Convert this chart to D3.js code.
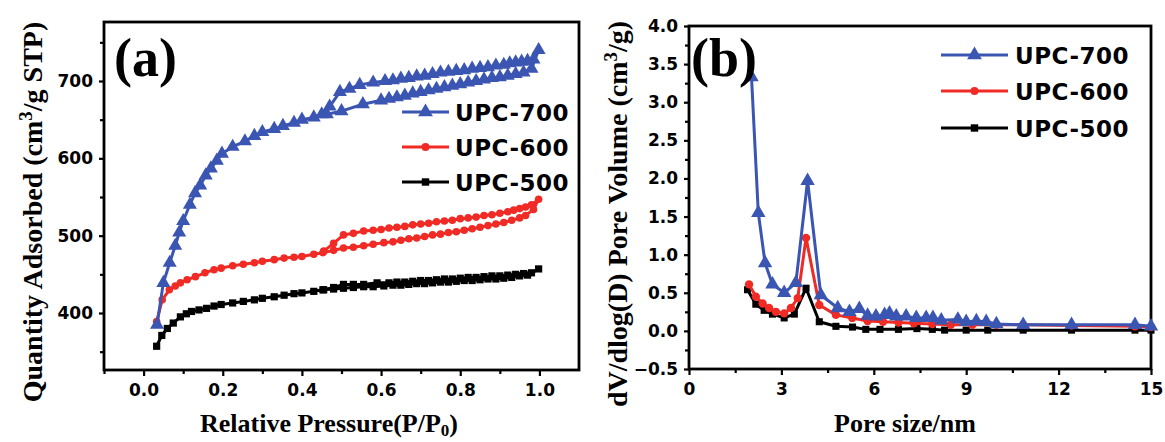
<!DOCTYPE html>
<html>
<head>
<meta charset="utf-8">
<script src="https://cdn.jsdelivr.net/npm/d3@7"></script>
<style>
  body { margin: 0; background: #fff; }
  svg text { fill: #000; }
</style>
</head>
<body>
<div id="chart"></div>
<script>
// ---- (a) N2 isotherms: [P/P0, quantity adsorbed] ----
var upc700Ads = [[0.034,385],[0.05,439],[0.066,465],[0.08,487],[0.09,504],[0.10,519],[0.117,540],[0.13,555],
  [0.143,565],[0.157,578],[0.17,587],[0.185,597],[0.198,606],[0.225,615],[0.256,622],[0.28,629],[0.30,634],
  [0.33,638],[0.352,642],[0.38,646],[0.40,650],[0.43,653],[0.463,657],[0.50,661],[0.554,670],[0.60,675],
  [0.62,677],[0.64,679],[0.66,681],[0.68,684],[0.70,686],[0.72,688],[0.74,690],[0.76,692],[0.78,694],
  [0.80,696],[0.82,698],[0.84,700],[0.86,702],[0.88,704],[0.90,705],[0.92,707],[0.94,709],[0.96,711],
  [0.98,716],[0.998,740]];
var upc700Des = [[0.985,728],[0.97,726],[0.955,725],[0.94,724],[0.925,723],[0.91,721],[0.89,720],[0.87,718],
  [0.85,717],[0.83,716],[0.81,714],[0.79,713],[0.77,712],[0.75,711],[0.73,709],[0.71,707],[0.69,706],
  [0.67,704],[0.65,703],[0.63,701],[0.61,700],[0.58,698],[0.546,695],[0.52,690],[0.496,686],[0.47,667],[0.45,657]];

var upc600Ads = [[0.033,389],[0.047,417],[0.065,430],[0.08,435],[0.093,439],[0.11,443],[0.131,447],[0.155,452],
  [0.178,456],[0.196,458],[0.225,461],[0.252,463],[0.28,465],[0.30,467],[0.33,469],[0.355,471],[0.38,472],
  [0.40,473],[0.43,476],[0.453,478],[0.48,481],[0.505,484],[0.53,485],[0.556,487],[0.58,489],[0.607,491],
  [0.63,492],[0.65,494],[0.67,496],[0.69,497],[0.71,499],[0.73,501],[0.75,502],[0.77,504],[0.79,505],
  [0.81,507],[0.83,509],[0.85,511],[0.87,513],[0.89,515],[0.91,517],[0.93,520],[0.95,523],[0.965,526],
  [0.985,534],[0.998,547]];
var upc600Des = [[0.98,540],[0.965,537],[0.95,535],[0.935,533],[0.92,531],[0.90,529],[0.88,527],[0.86,526],
  [0.84,524],[0.82,523],[0.80,522],[0.78,520],[0.76,519],[0.74,518],[0.72,516],[0.70,515],[0.68,514],
  [0.66,512],[0.64,511],[0.62,510],[0.60,508],[0.58,507],[0.556,506],[0.53,503],[0.505,501],[0.48,490],[0.455,480]];

var upc500Ads = [[0.033,357],[0.046,371],[0.06,380],[0.075,387],[0.093,395],[0.108,399],[0.121,402],[0.14,404],
  [0.159,406],[0.178,409],[0.196,411],[0.225,413],[0.252,415],[0.28,417],[0.30,419],[0.33,421],[0.355,423],
  [0.38,425],[0.40,426],[0.43,428],[0.453,430],[0.48,431],[0.505,432],[0.53,433],[0.556,434],[0.58,434],
  [0.607,435],[0.63,436],[0.65,436],[0.67,437],[0.69,438],[0.71,438],[0.73,439],[0.75,440],[0.77,440],
  [0.79,441],[0.81,442],[0.83,442],[0.85,443],[0.87,444],[0.89,444],[0.91,445],[0.93,446],[0.95,448],
  [0.97,449],[0.998,457]];
var upc500Des = [[0.98,452],[0.96,451],[0.94,450],[0.92,449],[0.90,448],[0.88,448],[0.86,447],[0.84,446],
  [0.82,446],[0.80,445],[0.78,444],[0.76,444],[0.74,443],[0.72,442],[0.70,442],[0.68,441],[0.66,440],
  [0.64,440],[0.62,439],[0.59,439],[0.556,437],[0.53,437],[0.505,437],[0.48,433],[0.455,430]];

// ---- (b) pore size distribution: [pore size nm, dV/dlog(D)] ----
var psd700 = [[2.03,3.33],[2.25,1.55],[2.47,0.89],[2.71,0.61],[3.09,0.50],[3.47,0.63],[3.85,1.97],[4.28,0.47],
  [4.83,0.30],[5.21,0.25],[5.53,0.29],[5.80,0.20],[6.07,0.19],[6.35,0.21],[6.51,0.23],[6.73,0.19],[7.05,0.19],
  [7.38,0.17],[7.70,0.17],[7.92,0.17],[8.19,0.14],[8.73,0.15],[9.0,0.12],[9.33,0.13],[9.65,0.12],[9.98,0.09],
  [10.85,0.08],[12.42,0.08],[14.48,0.08],[15.0,0.06]];
var psd600 = [[1.95,0.61],[2.17,0.45],[2.39,0.36],[2.60,0.30],[2.82,0.25],[3.09,0.23],[3.31,0.30],[3.53,0.43],
  [3.80,1.22],[4.23,0.34],[4.77,0.21],[5.30,0.17],[5.80,0.13],[6.3,0.12],[6.8,0.11],[7.3,0.10],[7.9,0.09],
  [8.5,0.08],[9.2,0.08],[9.98,0.08],[10.85,0.08],[12.42,0.07],[14.48,0.06],[15.0,0.05]];
var psd500 = [[1.90,0.54],[2.17,0.35],[2.44,0.27],[2.71,0.22],[3.09,0.17],[3.42,0.22],[3.80,0.56],[4.23,0.12],
  [4.77,0.06],[5.31,0.05],[5.74,0.02],[6.2,0.02],[6.8,0.02],[7.4,0.03],[7.9,0.02],[8.3,0.01],[9.0,0.01],
  [9.7,0.01],[10.85,0.01],[12.42,0.01],[14.48,0.01],[15.0,0.01]];

var seriesNames = ["UPC-700", "UPC-600", "UPC-500"];
var seriesColors = ["#3a55b2", "#f02a24", "#000000"];
var seriesSymbols = [d3.symbolTriangle, d3.symbolCircle, d3.symbolSquare];

var svg = d3.select("#chart").append("svg")
  .attr("width", 1165)
  .attr("height", 442);

var tickFont = "'DejaVu Sans', sans-serif";
var titleFont = "'Liberation Serif', 'Times New Roman', serif";

function drawFrame(g, x, y, majorX, minorX, majorY, minorY, fmtX, fmtY) {
  var x0 = x.range()[0], x1 = x.range()[1], y0 = y.range()[0], y1 = y.range()[1];

  g.append("g").attr("transform", "translate(0," + y0 + ")")
    .call(d3.axisBottom(x).tickValues(majorX).tickSize(6).tickPadding(8).tickFormat(fmtX));
  g.append("g").attr("transform", "translate(0," + y0 + ")")
    .call(d3.axisBottom(x).tickValues(minorX).tickSize(4).tickFormat(""));
  g.append("g").attr("transform", "translate(" + x0 + ",0)")
    .call(d3.axisLeft(y).tickValues(majorY).tickSize(5).tickPadding(6).tickFormat(fmtY));
  g.append("g").attr("transform", "translate(" + x0 + ",0)")
    .call(d3.axisLeft(y).tickValues(minorY).tickSize(4).tickFormat(""));

  g.selectAll(".domain").remove();
  g.selectAll(".tick line").attr("stroke", "#000").attr("stroke-width", 2.2);
  g.selectAll(".tick text")
    .style("font-family", tickFont)
    .style("font-weight", "bold")
    .style("font-size", "17px");

  g.append("rect")
    .attr("x", x0).attr("y", y1)
    .attr("width", x1 - x0).attr("height", y0 - y1)
    .attr("fill", "none").attr("stroke", "#000").attr("stroke-width", 2.8);
}

function drawSeries(g, x, y, pts, i, msize) {
  var line = d3.line().x(function(d) { return x(d[0]); }).y(function(d) { return y(d[1]); });
  g.append("path")
    .datum(pts)
    .attr("d", line)
    .attr("fill", "none")
    .attr("stroke", seriesColors[i])
    .attr("stroke-width", 3)
    .attr("stroke-linejoin", "round");
  g.selectAll(".m" + i)
    .data(pts)
    .enter().append("path")
    .attr("class", "m" + i)
    .attr("transform", function(d) { return "translate(" + x(d[0]) + "," + y(d[1]) + ")"; })
    .attr("d", d3.symbol().type(seriesSymbols[i]).size(msize[i]))
    .attr("fill", seriesColors[i]);
}

function drawLegend(g, lx0, lx1, tx, rows, msize) {
  seriesNames.forEach(function(name, i) {
    var yy = rows[i];
    g.append("line")
      .attr("x1", lx0).attr("x2", lx1).attr("y1", yy).attr("y2", yy)
      .attr("stroke", seriesColors[i]).attr("stroke-width", 3.2);
    g.append("path")
      .attr("transform", "translate(" + ((lx0 + lx1) / 2) + "," + yy + ")")
      .attr("d", d3.symbol().type(seriesSymbols[i]).size(msize[i]))
      .attr("fill", seriesColors[i]);
    g.append("text")
      .attr("x", tx).attr("y", yy + 8.5)
      .style("font-family", tickFont)
      .style("font-weight", "bold")
      .style("font-size", "23px")
      .style("letter-spacing", "0.5px")
      .text(name);
  });
}

// ---------- panel (a) ----------
var ga = svg.append("g");
var xa = d3.scaleLinear().domain([-0.1, 1.1]).range([104, 579]);
var ya = d3.scaleLinear().domain([326.3, 776.3]).range([370, 22]);

drawFrame(ga, xa, ya,
  [0, 0.2, 0.4, 0.6, 0.8, 1.0], [-0.1, 0.1, 0.3, 0.5, 0.7, 0.9],
  [400, 500, 600, 700], [350, 450, 550, 650, 750],
  d3.format(".1f"), d3.format("d"));

var msA = [85, 45, 52];
drawSeries(ga, xa, ya, upc500Ads.concat(upc500Des), 2, msA);
drawSeries(ga, xa, ya, upc600Ads.concat(upc600Des), 1, msA);
drawSeries(ga, xa, ya, upc700Ads.concat(upc700Des), 0, msA);

drawLegend(ga, 402, 449, 455, [112, 147, 182], [95, 50, 55]);

ga.append("text")
  .attr("x", 114).attr("y", 76)
  .style("font-family", titleFont).style("font-weight", "bold").style("font-size", "54px")
  .text("(a)");

ga.append("text")
  .attr("x", 329).attr("y", 432)
  .attr("text-anchor", "middle")
  .style("font-family", titleFont).style("font-weight", "bold").style("font-size", "26px")
  .html("Relative Pressure(P/P<tspan font-size='17px' dy='4'>0</tspan><tspan dy='-4'>)</tspan>");

ga.append("text")
  .attr("transform", "translate(42,212) rotate(-90)")
  .attr("text-anchor", "middle")
  .style("font-family", titleFont).style("font-weight", "bold").style("font-size", "28px")
  .html("Quantity Adsorbed (cm<tspan font-size='19px' dy='-10'>3</tspan><tspan dy='10'>/g STP)</tspan>");

// ---------- panel (b) ----------
var gb = svg.append("g");
var xb = d3.scaleLinear().domain([0, 15]).range([689, 1151]);
var yb = d3.scaleLinear().domain([-0.5, 4.0]).range([369, 26]);

drawFrame(gb, xb, yb,
  [0, 3, 6, 9, 12, 15], [1.5, 4.5, 7.5, 10.5, 13.5],
  [-0.5, 0, 0.5, 1, 1.5, 2, 2.5, 3, 3.5, 4], [-0.25, 0.25, 0.75, 1.25, 1.75, 2.25, 2.75, 3.25, 3.75],
  d3.format("d"), d3.format(".1f"));

var msB = [90, 55, 50];
drawSeries(gb, xb, yb, psd500, 2, msB);
drawSeries(gb, xb, yb, psd600, 1, msB);
drawSeries(gb, xb, yb, psd700, 0, msB);

drawLegend(gb, 941, 1008, 1015, [55, 91, 128], [95, 50, 55]);

gb.append("text")
  .attr("x", 691).attr("y", 76)
  .style("font-family", titleFont).style("font-weight", "bold").style("font-size", "54px")
  .text("(b)");

gb.append("text")
  .attr("x", 905).attr("y", 432)
  .attr("text-anchor", "middle")
  .style("font-family", titleFont).style("font-weight", "bold").style("font-size", "26px")
  .text("Pore size/nm");

gb.append("text")
  .attr("transform", "translate(627,214) rotate(-90)")
  .attr("text-anchor", "middle")
  .style("font-family", titleFont).style("font-weight", "bold").style("font-size", "28px")
  .html("dV/dlog(D) Pore Volume (cm<tspan font-size='19px' dy='-10'>3</tspan><tspan dy='10'>/g)</tspan>");
</script>
</body>
</html>
